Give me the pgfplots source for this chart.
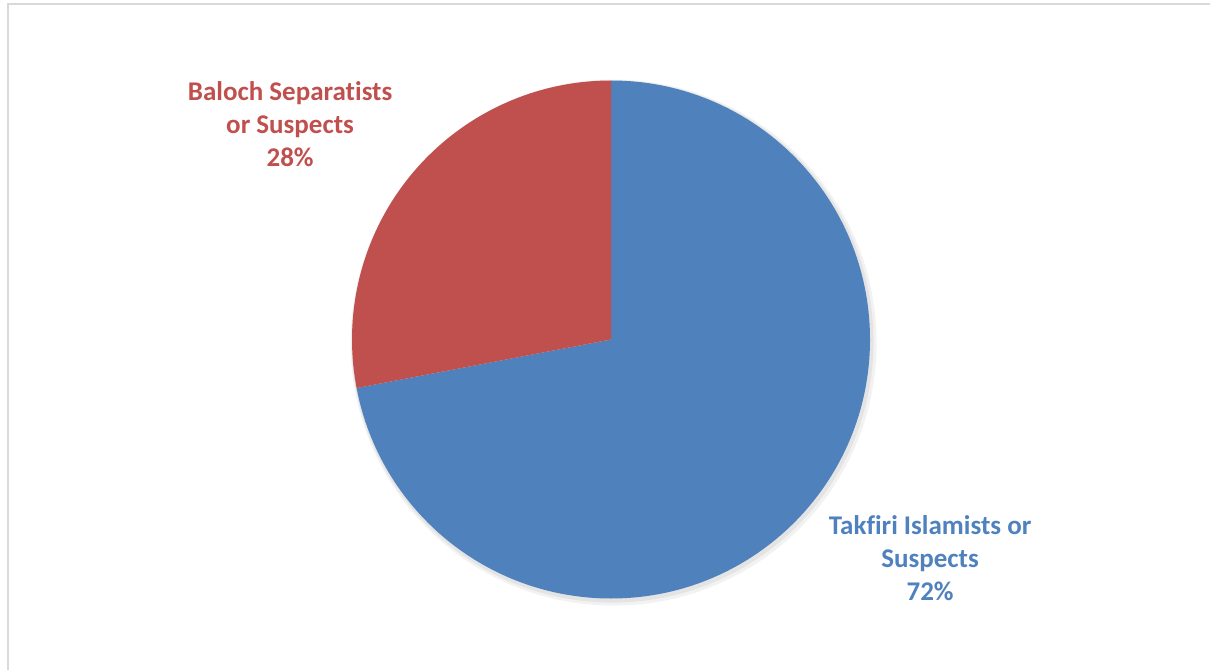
\documentclass[border=0pt]{standalone}
\usepackage{pgfplots}
\pgfplotsset{compat=1.18}
\usepackage{pgfplotstable}
\usepackage{fontspec}
\setmainfont{Carlito}[Ligatures=NoCommon]
\definecolor{takblue}{RGB}{79,129,189}
\definecolor{balred}{RGB}{192,80,77}
\definecolor{framegray}{RGB}{217,217,217}

% share of incidents by perpetrator type (percent)
\pgfplotstableread{
group value
Takfiri 72
Baloch 28
}\piedata

\begin{document}
\begin{tikzpicture}
\pgfplotstablegetelem{0}{value}\of\piedata
\pgfmathsetmacro\angA{90-3.6*\pgfplotsretval}
\def\R{129.5pt}
\begin{axis}[at={(305.5pt,165.25pt)}, anchor=center,
    x=129.5pt, y=129.5pt, xmin=-1, xmax=1, ymin=-1, ymax=1,
    hide axis, clip=false]
% soft shadow
\fill[black, opacity=0.05] (axis cs:0.01,-0.012) circle[radius=131.5pt];
\fill[black, opacity=0.06] (axis cs:0.006,-0.008) circle[radius=130.5pt];
% slices
\fill[takblue] (axis cs:0,0) -- (axis cs:0,1) arc[start angle=90, end angle=\angA, radius=\R] -- cycle;
\fill[balred] (axis cs:0,0) -- (axis cs:0,1) arc[start angle=90, end angle=\angA+360, radius=\R] -- cycle;
\node[align=center, text=balred, font={\fontsize{13.5}{16.5}\selectfont\bfseries}]
    at (axis cs:-1.239,0.832) {Baloch Separatists\\or Suspects\\28\%};
\node[align=center, text=takblue, font={\fontsize{13.5}{16.5}\selectfont\bfseries}]
    at (axis cs:1.232,-0.844) {Takfiri Islamists or\\Suspects\\72\%};
\end{axis}
\draw[framegray, line width=1pt] (4pt,0) -- (4pt,333pt) -- (605pt,333pt);
\pgfresetboundingbox
\path (0,0) rectangle (605pt,335pt);
\end{tikzpicture}
\end{document}
